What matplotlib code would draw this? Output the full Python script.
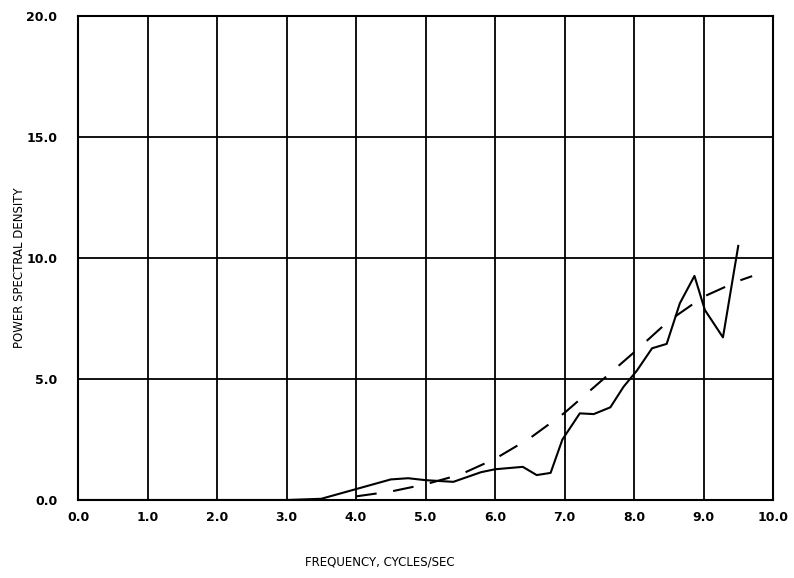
import matplotlib
matplotlib.use("Agg")
import matplotlib.pyplot as plt

# Measured (solid) spectrum
freq_meas = [0.0, 3.0, 3.5, 4.0, 4.5, 4.75, 5.0, 5.4, 5.8, 6.0, 6.4, 6.6, 6.8, 6.97,
             7.22, 7.42, 7.66, 7.85, 8.04, 8.26, 8.47, 8.66, 8.87, 9.02, 9.28, 9.5]
psd_meas = [0.0, 0.0, 0.05, 0.45, 0.85, 0.9, 0.82, 0.75, 1.15, 1.27, 1.37, 1.03, 1.12, 2.5,
            3.58, 3.55, 3.83, 4.68, 5.34, 6.27, 6.45, 8.13, 9.26, 7.85, 6.72, 10.5]

# Fitted (dashed) spectrum
freq_fit = [4.0, 4.5, 5.0, 5.5, 6.0, 6.5, 7.0, 7.5, 8.0, 8.5, 9.0, 9.5, 9.7]
psd_fit = [0.15, 0.35, 0.65, 1.05, 1.7, 2.55, 3.6, 4.85, 6.1, 7.4, 8.4, 9.05, 9.25]

xticks = [0, 1, 2, 3, 4, 5, 6, 7, 8, 9, 10]
yticks = [0, 5, 10, 15, 20]

fig = plt.figure(figsize=(7.94, 5.78), dpi=100)
ax = fig.add_axes([78/794, 1 - 500/578, (773 - 78)/794, (500 - 16)/578])

ax.plot(freq_meas, psd_meas, color="black", lw=1.5)
ax.plot(freq_fit, psd_fit, color="black", lw=1.5, dashes=(10, 8))

ax.set_xlim(0, 10)
ax.set_ylim(0, 20)
ax.set_xticks(xticks)
ax.set_yticks(yticks)
ax.set_xticklabels([f"{v:.1f}" for v in xticks])
ax.set_yticklabels([f"{v:.1f}" for v in yticks])
ax.grid(True, color="black", lw=1.3)
ax.tick_params(axis="both", length=0, labelsize=9)
ax.tick_params(axis="y", pad=15)
ax.tick_params(axis="x", pad=8)
for lbl in ax.get_xticklabels() + ax.get_yticklabels():
    lbl.set_fontweight("bold")
for s in ax.spines.values():
    s.set_linewidth(1.5)

fig.text(20/794, 1 - 268/578, "POWER SPECTRAL DENSITY", fontsize=8.5,
         rotation=90, ha="center", va="center")
fig.text(380/794, 1 - 562/578, "FREQUENCY, CYCLES/SEC", fontsize=8.5,
         ha="center", va="center")

fig.savefig("out.png", dpi=100)
